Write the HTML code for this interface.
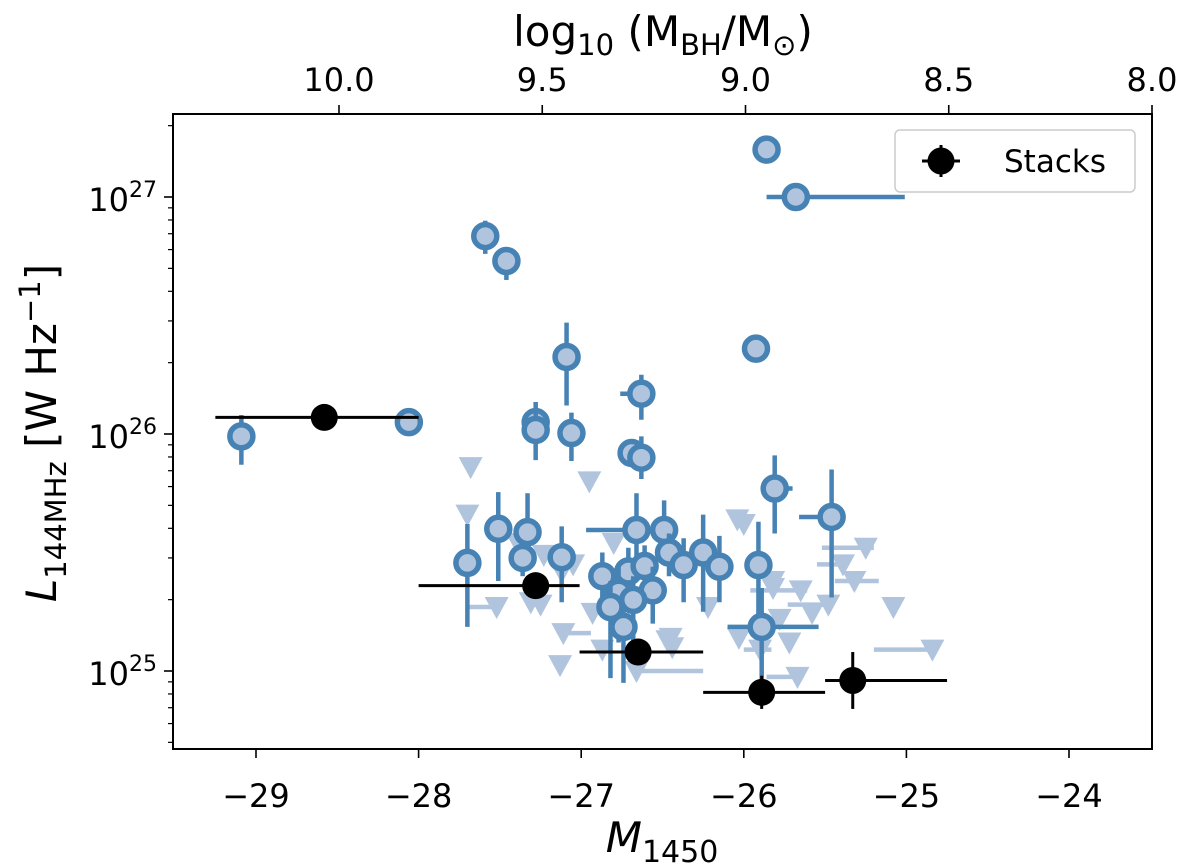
<!DOCTYPE html>
<html><head><meta charset="utf-8"><style>
html,body{margin:0;padding:0;background:#fff;}
svg{display:block;font-family:"DejaVu Sans","Liberation Sans",sans-serif;}
</style></head><body>
<svg id="chart" width="1200" height="868" viewBox="0 0 1200 868" xmlns="http://www.w3.org/2000/svg"></svg>
<script>
// ---- data ----
const detM   = [-29.09,-28.06,-27.59,-27.46,-27.09,-27.28,-27.28,-27.06,-26.63,-26.69,-26.63,-25.86,-25.68,-25.925,-25.81,-25.46,-27.70,-27.51,-27.33,-27.36,-27.12,-26.66,-26.49,-26.46,-26.37,-26.25,-26.15,-26.87,-26.71,-26.61,-26.77,-26.56,-26.82,-26.68,-26.74,-25.91,-25.89];
const detL   = [25.99,26.05,26.835,26.73,26.325,26.05,26.017,26.004,26.17,25.92,25.90,27.20,27.0,26.36,25.77,25.65,25.456,25.60,25.586,25.477,25.48,25.595,25.595,25.50,25.447,25.50,25.44,25.40,25.42,25.443,25.33,25.34,25.27,25.30,25.186,25.447,25.186];
const detLlo = [25.87,26.02,26.76,26.65,26.12,26.0,25.89,25.886,26.06,25.88,25.81,27.2,27.0,26.36,25.58,25.31,25.186,25.38,25.45,25.40,25.29,25.40,25.49,25.40,25.29,25.25,25.29,25.30,25.30,25.35,25.12,25.20,24.97,25.12,24.95,25.2,24.96];
const detLhi = [26.08,26.07,26.90,26.78,26.47,26.1,26.135,26.09,26.25,25.96,25.99,27.2,27.0,26.36,25.91,25.85,25.62,25.755,25.75,25.55,25.61,25.75,25.72,25.58,25.56,25.66,25.57,25.50,25.52,25.53,25.45,25.44,25.38,25.40,25.28,25.63,25.35];
const detMlo = [null,null,null,null,null,null,null,null,-26.76,null,null,null,-25.86,null,-25.81,-25.66,null,null,null,null,null,-26.97,null,null,null,null,null,null,null,null,null,null,null,null,null,null,-26.10];
const detMhi = [null,null,null,null,null,null,null,null,-26.63,null,null,null,-25.01,null,-25.70,-25.46,null,null,null,null,null,-26.66,null,null,null,null,null,null,null,null,null,null,null,null,null,null,-25.54];
const limM   = [-27.68,-27.70,-26.95,-27.52,-27.31,-27.25,-27.12,-27.11,-27.13,-26.87,-26.93,-26.80,-27.23,-27.39,-27.05,-26.47,-26.44,-26.66,-26.04,-26.0,-25.25,-25.39,-25.32,-25.82,-25.82,-25.65,-25.48,-25.58,-25.08,-25.78,-26.03,-25.72,-24.84,-25.67,-25.90,-26.22,-26.45];
const limL   = [25.86,25.66,25.80,25.27,25.29,25.28,25.42,25.16,25.025,25.09,25.245,25.54,25.49,25.54,25.45,25.13,25.10,25.0,25.64,25.62,25.52,25.45,25.38,25.38,25.35,25.34,25.28,25.245,25.27,25.22,25.14,25.12,25.09,24.975,25.09,25.27,25.14];
const limMlo = [null,null,null,-27.69,null,null,null,-27.11,null,null,null,null,null,null,null,null,null,-26.66,null,null,-25.52,-25.55,-25.44,null,null,-25.96,-25.73,null,null,null,null,null,-25.20,-25.86,-26.0,null,null];
const limMhi = [null,null,null,-27.52,null,null,null,-26.94,null,null,null,null,null,null,null,null,null,-26.25,null,null,-25.20,-25.39,-25.17,null,null,-25.61,-25.48,null,null,null,null,null,-24.84,-25.67,-25.83,null,null];
const stkM   = [-28.58,-27.28,-26.65,-25.89,-25.33];
const stkL   = [26.07,25.36,25.08,24.91,24.96];
const stkLlo = [26.04,25.36,25.08,24.84,24.84];
const stkLhi = [26.10,25.36,25.08,24.98,25.08];
const stkMlo = [-29.25,-28.0,-27.01,-26.25,-25.50];
const stkMhi = [-28.0,-27.01,-26.25,-25.50,-24.75];
const xTicks = [-29,-28,-27,-26,-25,-24];
const yTicks = [25,26,27];
const topTicks = ["10.0","9.5","9.0","8.5","8.0"];
const topVals = [10.0,9.5,9.0,8.5,8.0];

const L=173,R=1152,T=114,B=749;
const X = m => 256 + (m + 29) * 162.6;
const Y = l => 197 - (l - 27) * 237;
const XT = v => 339 + (10 - v) * 406.5;
const svg = document.getElementById('chart');
const NS='http://www.w3.org/2000/svg';
function mk(tag, attrs, parent){const e=document.createElementNS(NS,tag);for(const k in attrs)e.setAttribute(k,attrs[k]);(parent||svg).appendChild(e);return e;}

const gLim = mk('g',{});


const gDet = mk('g',{});


const gStk = mk('g',{});



const pale='#b0c4de', blue='#4682b4';
limM.forEach((m,i)=>{
  const x=X(m), y=Y(limL[i]);
  if(limMlo[i]!==null){
    const ln=mk('line',{x1:X(limMlo[i]),x2:X(limMhi[i]),y1:y,y2:y,stroke:pale,'stroke-width':4.5},gLim);
    
    
  }
  const t=mk('polygon',{points:`${x-12},${y-10} ${x+12},${y-10} ${x},${y+12}`,fill:pale},gLim);
  
  
});
detM.forEach((m,i)=>{
  const x=X(m), y=Y(detL[i]);
  const v=mk('line',{x1:x,x2:x,y1:Y(detLlo[i]),y2:Y(detLhi[i]),stroke:blue,'stroke-width':4.5},gDet);
  
  
  if(detMlo[i]!==null){
    const h=mk('line',{x1:X(detMlo[i]),x2:X(detMhi[i]),y1:y,y2:y,stroke:blue,'stroke-width':4.5},gDet);
    
    
  }
  const c=mk('circle',{cx:x,cy:y,r:11.5,fill:pale,stroke:blue,'stroke-width':5.5},gDet);
  
  
});
stkM.forEach((m,i)=>{
  const x=X(m), y=Y(stkL[i]);
  const h=mk('line',{x1:X(stkMlo[i]),x2:X(stkMhi[i]),y1:y,y2:y,stroke:'#000','stroke-width':3},gStk);
  
  
  const v=mk('line',{x1:x,x2:x,y1:Y(stkLlo[i]),y2:Y(stkLhi[i]),stroke:'#000','stroke-width':3},gStk);
  
  
  const c=mk('circle',{cx:x,cy:y,r:13.5,fill:'#000'},gStk);
  
  
});

const fr=mk('rect',{x:L,y:T,width:R-L,height:B-T,fill:'none',stroke:'#000','stroke-width':2});



xTicks.forEach(v=>{
  const x=X(v);
  mk('line',{x1:x,x2:x,y1:B,y2:B+9,stroke:'#000','stroke-width':1.6});
  const t=mk('text',{x:x,y:B+58,'text-anchor':'middle','font-size':32});
  t.textContent='\u2212'+Math.abs(v);
  
  
});
topVals.forEach((v,i)=>{
  const x=XT(v);
  mk('line',{x1:x,x2:x,y1:T,y2:T-9,stroke:'#000','stroke-width':1.6});
  const t=mk('text',{x:x,y:T-23,'text-anchor':'middle','font-size':32});
  t.textContent=topTicks[i];
  
  
});
yTicks.forEach(v=>{
  const y=Y(v);
  mk('line',{x1:L,x2:L-9,y1:y,y2:y,stroke:'#000','stroke-width':1.6});
  const t=mk('text',{x:L-16,y:y+14,'font-size':32,'text-anchor':'end'});
  t.innerHTML='10<tspan dy="-14" font-size="22">'+v+'</tspan>';
  
  
});
for(let d=24;d<=27;d++){
  for(let k=2;k<=9;k++){
    const l=d+Math.log10(k);
    const y=Y(l);
    if(y<T||y>B)continue;
    mk('line',{x1:L,x2:L-5,y1:y,y2:y,stroke:'#000','stroke-width':1.2});
  }
}
</script>
<div style="position:absolute;left:0;top:0;width:1200px;height:868px;pointer-events:none;">
<svg width="1200" height="868" style="position:absolute;left:0;top:0;font-family:'DejaVu Sans','Liberation Sans',sans-serif;">
  <text x="662" y="852" text-anchor="middle" font-size="42" font-style="italic">M<tspan font-size="30" font-style="normal" dy="10">1450</tspan></text>
  <text x="663" y="46" text-anchor="middle" font-size="42">log<tspan font-size="29" dy="9">10</tspan><tspan dy="-9"> (M</tspan><tspan font-size="29" dy="9">BH</tspan><tspan dy="-9">/M</tspan><tspan font-size="29" dy="9">⊙</tspan><tspan dy="-9">)</tspan></text>
  <text transform="translate(56,433) rotate(-90)" text-anchor="middle" font-size="42"><tspan font-style="italic">L</tspan><tspan font-size="29" dy="10">144MHz</tspan><tspan dy="-10"> [W Hz</tspan><tspan font-size="29" dy="-16">−1</tspan><tspan dy="16">]</tspan></text>
  <g>
    <rect x="895" y="130" width="240" height="62" rx="5" fill="#fff" stroke="#ccc" stroke-width="1.5"/>
    <line x1="922" x2="960" y1="161" y2="161" stroke="#000" stroke-width="3"/>
    <line x1="941" x2="941" y1="145" y2="177" stroke="#000" stroke-width="3"/>
    <circle cx="941" cy="161" r="13.5" fill="#000"/>
    <text x="1004" y="172" font-size="31">Stacks</text>
  </g>
</svg>
</div>
</body></html>
